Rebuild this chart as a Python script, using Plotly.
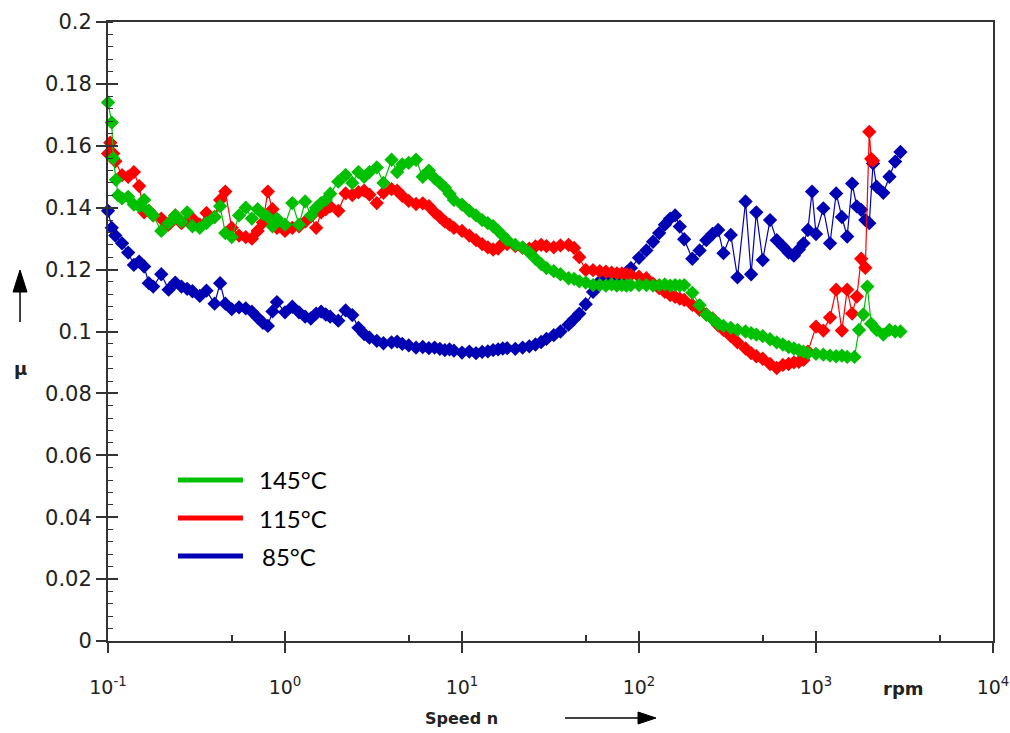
import plotly.graph_objects as go

# ---------------------------------------------------------------
# Friction coefficient mu versus speed n (rpm) at three temperatures
# ---------------------------------------------------------------

# 145 °C
speed_145 = [0.1, 0.105, 0.107, 0.111, 0.114,
             0.12, 0.13, 0.14, 0.15, 0.16, 0.17, 0.18, 0.20, 0.22, 0.24, 0.26, 0.28, 0.30, 0.33, 0.36,
             0.40, 0.43, 0.46, 0.50, 0.55, 0.60, 0.65, 0.70, 0.75, 0.80, 0.85, 0.90,
             1.0, 1.1, 1.2, 1.3, 1.4, 1.5, 1.6, 1.7, 1.8, 2.0, 2.2, 2.4, 2.6, 2.8, 3.0, 3.3, 3.6,
             4.0, 4.3, 4.6, 5.0, 5.5, 6.0, 6.5, 7.0, 7.5, 8.0, 8.5, 9.0,
             10, 11, 12, 13, 14, 15, 16, 17, 18, 20, 22, 24, 26, 28, 30, 33, 36,
             40, 43, 46, 50, 55, 60, 65, 70, 75, 80, 85, 90,
             100, 110, 120, 130, 140, 150, 160, 170, 180, 200, 220, 240, 260, 280, 300, 330, 360,
             400, 430, 460, 500, 550, 600, 650, 700, 750, 800, 850, 900,
             1000, 1100, 1200, 1300, 1400, 1500, 1650, 1750, 1850, 1950, 2050, 2200, 2400, 2600, 2800, 3000]
mu_145 = [0.174, 0.1675, 0.156, 0.149, 0.144,
          0.143, 0.1435, 0.141, 0.1405, 0.1425, 0.139, 0.1375, 0.1325, 0.135, 0.1375, 0.1355, 0.1385,
          0.134, 0.1335, 0.135, 0.137, 0.1405, 0.1318, 0.1305, 0.1375, 0.140, 0.1365, 0.1395, 0.138,
          0.137, 0.134, 0.1365,
          0.1345, 0.1415, 0.1345, 0.142, 0.1375, 0.140, 0.1415, 0.1425, 0.1445, 0.1484, 0.1506, 0.148,
          0.1515, 0.150, 0.1515, 0.153, 0.148, 0.1555, 0.1515, 0.154, 0.1545, 0.1555, 0.150, 0.152,
          0.1495, 0.148, 0.1465, 0.1445, 0.1425,
          0.141, 0.139, 0.1375, 0.136, 0.135, 0.134, 0.1325, 0.131, 0.1295, 0.128, 0.1272, 0.1255,
          0.1235, 0.1218, 0.1205, 0.1195, 0.1185, 0.1172, 0.117, 0.1162, 0.1158, 0.115, 0.115, 0.1148,
          0.1152, 0.1148, 0.115, 0.1148, 0.115,
          0.115, 0.115, 0.1148, 0.115, 0.1152, 0.1148, 0.115, 0.1148, 0.115, 0.1125, 0.1085, 0.1055,
          0.104, 0.1025, 0.1018, 0.1012, 0.1005, 0.100, 0.0995, 0.099, 0.0985, 0.0975, 0.0965, 0.0958,
          0.095, 0.0945, 0.094, 0.0935, 0.093,
          0.0928, 0.0925, 0.0922, 0.092, 0.0922, 0.0918, 0.0918, 0.1005, 0.1055, 0.1145, 0.1025,
          0.1005, 0.099, 0.1005, 0.100, 0.100]

# 115 °C
speed_115 = [0.1, 0.103, 0.107, 0.11,
             0.12, 0.13, 0.14, 0.15, 0.16, 0.17, 0.18, 0.20, 0.22, 0.24, 0.26, 0.28, 0.30, 0.33, 0.36,
             0.40, 0.43, 0.46, 0.50, 0.55, 0.60, 0.65, 0.70, 0.75, 0.80, 0.85, 0.90,
             1.0, 1.1, 1.2, 1.3, 1.4, 1.5, 1.6, 1.7, 1.8, 2.0, 2.2, 2.4, 2.6, 2.8, 3.0, 3.3, 3.6,
             4.0, 4.3, 4.6, 5.0, 5.5, 6.0, 6.5, 7.0, 7.5, 8.0, 8.5, 9.0,
             10, 11, 12, 13, 14, 15, 16, 17, 18, 20, 22, 24, 26, 28, 30, 33, 36,
             40, 43, 46, 50, 55, 60, 65, 70, 75, 80, 85, 90,
             100, 110, 120, 130, 140, 150, 160, 170, 180, 200, 220, 240, 260, 280, 300, 330, 360,
             400, 430, 460, 500, 550, 600, 650, 700, 750, 800, 850, 900,
             1000, 1100, 1200, 1300, 1400, 1500, 1600, 1700, 1800, 1900, 2000, 2050, 2100]
mu_115 = [0.1575, 0.161, 0.1575, 0.155,
          0.1505, 0.150, 0.1515, 0.147, 0.1385, 0.139, 0.1375, 0.1365, 0.1345, 0.1375, 0.135, 0.136,
          0.1365, 0.1345, 0.1383, 0.137, 0.1425, 0.1452, 0.1335, 0.131, 0.1305, 0.130, 0.1325, 0.1352,
          0.1452, 0.1395, 0.1335,
          0.1325, 0.1335, 0.134, 0.1355, 0.1372, 0.1335, 0.1385, 0.1395, 0.1404, 0.139, 0.1446, 0.1441,
          0.145, 0.1455, 0.1442, 0.1415, 0.1448, 0.146, 0.1455, 0.1438, 0.1422, 0.1412, 0.1414, 0.1405,
          0.1385, 0.137, 0.1355, 0.1345, 0.1335,
          0.1325, 0.131, 0.1295, 0.1282, 0.1272, 0.1265, 0.1268, 0.1285, 0.1282, 0.1276, 0.127, 0.1268,
          0.1275, 0.128, 0.1276, 0.1272, 0.1278, 0.128, 0.127, 0.124, 0.1199, 0.1198, 0.1195, 0.1193,
          0.119, 0.1188, 0.1188, 0.1185, 0.1183,
          0.1177, 0.1172, 0.1155, 0.114, 0.1128, 0.1118, 0.1112, 0.1106, 0.1102, 0.1086, 0.107, 0.1055,
          0.1042, 0.102, 0.1005, 0.0985, 0.0965, 0.0945, 0.093, 0.092, 0.0912, 0.0895, 0.0882, 0.0892,
          0.0895, 0.090, 0.0902, 0.0908, 0.0935,
          0.1016, 0.1003, 0.1045, 0.1135, 0.1003, 0.1135, 0.1058, 0.1113, 0.1235, 0.1206, 0.1645,
          0.1558, 0.1552]

# 85 °C
speed_85 = [0.1, 0.105, 0.11,
            0.12, 0.13, 0.14, 0.15, 0.16, 0.17, 0.18, 0.20, 0.22, 0.24, 0.26, 0.28, 0.30, 0.33, 0.36,
            0.40, 0.43, 0.46, 0.50, 0.55, 0.60, 0.65, 0.70, 0.75, 0.80, 0.85, 0.90,
            1.0, 1.1, 1.2, 1.3, 1.4, 1.5, 1.6, 1.7, 1.8, 2.0, 2.2, 2.4, 2.6, 2.8, 3.0, 3.3, 3.6,
            4.0, 4.3, 4.6, 5.0, 5.5, 6.0, 6.5, 7.0, 7.5, 8.0, 8.5, 9.0,
            10, 11, 12, 13, 14, 15, 16, 17, 18, 20, 22, 24, 26, 28, 30, 33, 36,
            40, 43, 46, 50, 55, 60, 65, 70, 75, 80, 85, 90,
            100, 110, 120, 130, 140, 150, 160, 170, 180, 200, 220, 240, 260, 280, 300, 330, 360,
            400, 430, 460, 500, 550, 600, 650, 700, 750, 800, 850, 900,
            950, 1000, 1100, 1200, 1300, 1400, 1500, 1600, 1700, 1800, 1900, 2000, 2100, 2200, 2400,
            2600, 2800, 3000]
mu_85 = [0.139, 0.1335, 0.131,
         0.1285, 0.1255, 0.1215, 0.1226, 0.121, 0.1156, 0.1145, 0.1185, 0.1135, 0.1158, 0.1145, 0.1138,
         0.113, 0.1115, 0.1132, 0.109, 0.1156, 0.109, 0.1072, 0.1078, 0.1075, 0.1064, 0.1045, 0.1028,
         0.1018, 0.1065, 0.1095,
         0.1062, 0.108, 0.1062, 0.1048, 0.1042, 0.1058, 0.1064, 0.1055, 0.1048, 0.1035, 0.1068, 0.1053,
         0.1012, 0.0992, 0.098, 0.097, 0.0962, 0.0965, 0.0967, 0.096, 0.0955, 0.0948, 0.095, 0.0946,
         0.0948, 0.0944, 0.094, 0.0942, 0.0938,
         0.0932, 0.0935, 0.093, 0.0934, 0.0936, 0.094, 0.0942, 0.0945, 0.0946, 0.0944, 0.0948, 0.0952,
         0.0958, 0.0966, 0.0976, 0.0988, 0.100, 0.1022, 0.104, 0.1058, 0.1088, 0.1128, 0.1162, 0.117,
         0.1172, 0.1175, 0.1178, 0.119, 0.1205,
         0.1238, 0.1262, 0.129, 0.1318, 0.1345, 0.1365, 0.1375, 0.1339, 0.1298, 0.1235, 0.1262, 0.1295,
         0.1315, 0.1328, 0.1253, 0.1312, 0.1175, 0.142, 0.1185, 0.1385, 0.1231, 0.136, 0.1295, 0.1275,
         0.1255, 0.1245, 0.1265, 0.1285, 0.1328,
         0.1452, 0.1315, 0.1398, 0.1285, 0.1446, 0.137, 0.1307, 0.1478, 0.1404, 0.1393, 0.136, 0.135,
         0.1543, 0.1468, 0.1448, 0.150, 0.1549, 0.158]

# Axis ticks
x_major = [0.1, 1, 10, 100, 1000, 10000]
x_major_text = ["10<sup>-1</sup>", "10<sup>0</sup>", "10<sup>1</sup>", "10<sup>2</sup>",
                "10<sup>3</sup>", "10<sup>4</sup>"]
x_minor = [0.5, 5, 50, 500, 5000]
y_major = [0, 0.02, 0.04, 0.06, 0.08, 0.1, 0.12, 0.14, 0.16, 0.18, 0.2]
y_major_text = ["0", "0.02", "0.04", "0.06", "0.08", "0.1", "0.12", "0.14", "0.16", "0.18", "0.2"]

series = [
    ("145°C", speed_145, mu_145, "#00C000"),
    ("115°C", speed_115, mu_115, "#FF0000"),
    ("85°C", speed_85, mu_85, "#0000B4"),
]

AXIS = "#333333"
Y_TICK_FONT = dict(family="DejaVu Sans", size=21, color="#222222")
X_TICK_FONT = dict(family="DejaVu Sans", size=19, color="#222222")

fig = go.Figure()

# blue drawn first, green on top
for name, speeds, mus, color in reversed(series):
    fig.add_trace(go.Scatter(
        x=speeds, y=mus, name=name, mode="lines+markers",
        line=dict(color=color, width=1.2),
        marker=dict(symbol="diamond", size=11, color=color, line=dict(width=0)),
        cliponaxis=False, showlegend=False,
    ))

# empty trace carrying the overlay axes (inner half of the crossing ticks)
fig.add_trace(go.Scatter(x=[], y=[], xaxis="x2", yaxis="y2", showlegend=False, hoverinfo="skip"))

fig.update_layout(
    width=1010, height=733,
    margin=dict(l=108, r=17, t=22, b=92, autoexpand=False),
    paper_bgcolor="white", plot_bgcolor="white",
    showlegend=False,
    xaxis=dict(
        type="log", range=[-1, 4], automargin=False,
        tickmode="array", tickvals=x_major, ticktext=x_major_text,
        ticks="outside", ticklen=10, tickwidth=1.5, tickcolor=AXIS,
        ticklabelstandoff=18, ticklabeloverflow="allow",
        showline=True, linecolor=AXIS, linewidth=2, mirror=True,
        showgrid=False, zeroline=False, tickfont=X_TICK_FONT,
        minor=dict(tickmode="array", tickvals=x_minor, ticks="inside", ticklen=6,
                   tickwidth=1.5, tickcolor=AXIS, showgrid=False),
    ),
    xaxis2=dict(
        type="log", range=[-1, 4], overlaying="x", anchor="y", side="bottom", automargin=False,
        tickmode="array", tickvals=x_major, ticks="inside", ticklen=10, tickwidth=1.5,
        tickcolor=AXIS, showticklabels=False, showline=False, showgrid=False, zeroline=False,
    ),
    yaxis=dict(
        range=[0, 0.2], automargin=False,
        tickmode="array", tickvals=y_major, ticktext=y_major_text,
        ticks="outside", ticklen=10, tickwidth=1.5, tickcolor=AXIS,
        ticklabeloverflow="allow",
        showline=True, linecolor=AXIS, linewidth=2, mirror=True,
        showgrid=False, zeroline=False, tickfont=Y_TICK_FONT,
        minor=dict(tick0=0, dtick=0.004, ticks="inside", ticklen=5,
                   tickwidth=1, tickcolor=AXIS, showgrid=False),
    ),
    yaxis2=dict(
        range=[0, 0.2], overlaying="y", anchor="x", side="left", automargin=False,
        tickmode="array", tickvals=y_major, ticks="inside", ticklen=10, tickwidth=1.5,
        tickcolor=AXIS, showticklabels=False, showline=False, showgrid=False, zeroline=False,
    ),
)

# Axis captions
caption_font = dict(family="DejaVu Sans", color="#222222")
fig.add_annotation(text="<b>rpm</b>", xref="paper", yref="paper", x=0.8994, y=-0.0775,
                   xanchor="center", yanchor="middle", showarrow=False,
                   font=dict(size=18, **caption_font))
fig.add_annotation(text="<b>Speed n</b>", xref="paper", yref="paper", x=0.3989, y=-0.1244,
                   xanchor="center", yanchor="middle", showarrow=False,
                   font=dict(size=16, **caption_font))
fig.add_annotation(text="<b>μ</b>", xref="paper", yref="paper", x=-0.0994, y=0.441,
                   xanchor="center", yanchor="middle", showarrow=False,
                   font=dict(size=18, **caption_font))

# Direction arrows next to the axis captions
fig.add_shape(type="line", xref="paper", yref="paper", x0=0.5164, x1=0.6011, y0=-0.1244, y1=-0.1244,
              line=dict(color="black", width=1.5))
fig.add_shape(type="path", xref="paper", yref="paper",
              path="M 0.5989 -0.1147 L 0.6192 -0.1244 L 0.5989 -0.1341 Z",
              fillcolor="black", line=dict(color="black", width=1))
fig.add_shape(type="line", xref="paper", yref="paper", x0=-0.0994, x1=-0.0994, y0=0.5153, y1=0.5670,
              line=dict(color="black", width=1.5))
fig.add_shape(type="path", xref="paper", yref="paper",
              path="M -0.1073 0.5638 L -0.0994 0.5994 L -0.0915 0.5638 Z",
              fillcolor="black", line=dict(color="black", width=1))

# Legend block
legend_rows = [(0.2601, 0.1684), (0.1987, 0.1684), (0.1373, 0.1718)]
for (name, _, _, color), (ly, tx) in zip(series, legend_rows):
    fig.add_shape(type="line", xref="paper", yref="paper", x0=0.0791, x1=0.1525, y0=ly, y1=ly,
                  line=dict(color=color, width=5))
    fig.add_annotation(text=name, xref="paper", yref="paper", x=tx, y=ly, xanchor="left",
                       yanchor="middle", showarrow=False,
                       font=dict(family="Lato", size=24, color="black"))

fig.write_html("out.html")
